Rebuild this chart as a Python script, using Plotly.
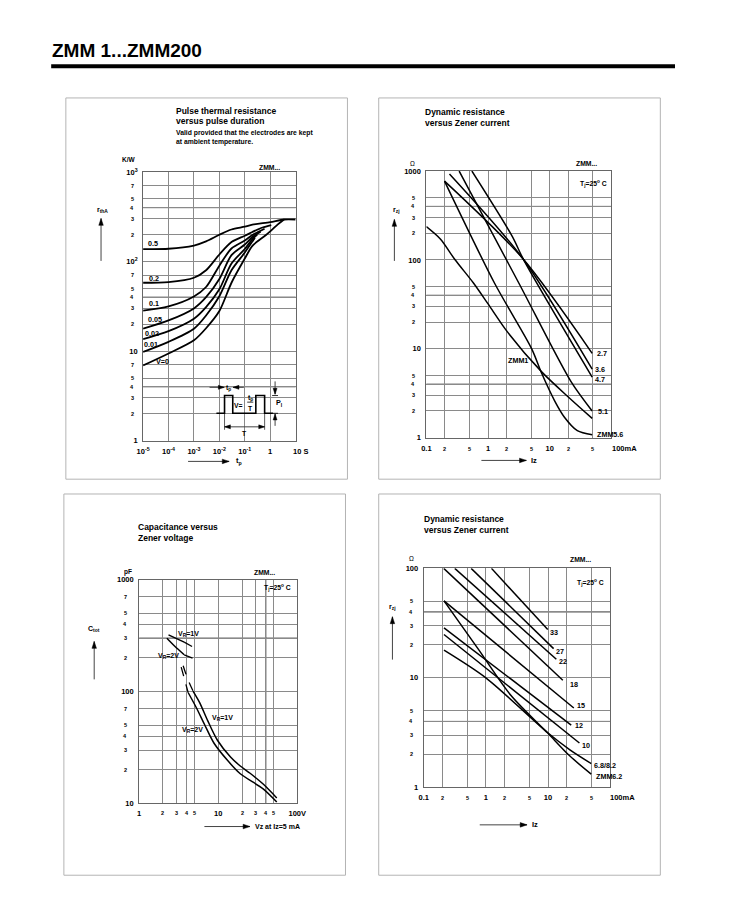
import math
import plotly.graph_objects as go

# Page coordinates are 750x919; the figure sits inside the browser's default 8px body margin
# and is kept smaller than the window so that no scrollbars appear.
OFF = 8
FW, FH = 720, 890
FONT = "Liberation Sans, Arial, Helvetica, sans-serif"

# ---------------- Panel 1: pulse thermal resistance rthA (K/W) vs pulse duration tp (s) ----------------
tp_05 = [1e-5, 1e-4, 1e-3, 3e-3, 1e-2, 3e-2, 0.1, 0.2, 1.0, 3.5, 10]
rth_05 = [138, 139, 151, 168, 199, 228, 245, 258, 276, 295, 295]
tp_02 = [1e-5, 1e-4, 1e-3, 3e-3, 1e-2, 3e-2, 0.1, 0.2, 0.5, 1.1]
rth_02 = [58, 59, 66, 80, 120, 165, 194, 214, 240, 256]
tp_01 = [1e-5, 1e-4, 1e-3, 3e-3, 1e-2, 3e-2, 0.1, 0.2, 0.35, 0.6]
rth_01 = [28.4, 31.6, 40.8, 52, 90, 140, 172, 198, 215, 233]
tp_005 = [1e-5, 1e-4, 1e-3, 3e-3, 1e-2, 3e-2, 0.1, 0.2, 0.42]
rth_005 = [17.8, 22, 30, 40, 64, 118, 155, 188, 215]
tp_002 = [1e-5, 1e-4, 1e-3, 3e-3, 1e-2, 3e-2, 0.1, 0.2, 0.31]
rth_002 = [13.6, 16.7, 23, 31, 49, 95, 138, 178, 200]
tp_001 = [1e-5, 1e-4, 1e-3, 3e-3, 1e-2, 3e-2, 0.1, 0.2, 0.25]
rth_001 = [9.8, 12.7, 17.8, 25, 41, 80, 126, 168, 185]
tp_0 = [1e-5, 1e-4, 1e-3, 3e-3, 1e-2, 3e-2, 0.1, 0.2, 0.7, 2.0, 3.5]
rth_0 = [6.9, 9.4, 13.2, 18, 28, 58, 108, 150, 199, 260, 295]
p1_curve_labels = ["0.5", "0.2", "0.1", "0.05", "0.02", "0.01", "V=0"]

# ---------------- Panel 2: dynamic resistance rzj (Ohm) vs Iz (mA), ZMM1...ZMM5.6 ----------------
iz_zmm1 = [0.1, 0.17, 0.29, 0.58, 1.0, 2.06, 7.4, 20.8, 48.7]
rz_zmm1 = [237, 171, 101, 55, 32, 15.5, 5.5, 2.8, 1.65]
iz_56 = [0.197, 1.27, 5.1, 7.4, 12, 17.3, 28, 48.7]
rz_56 = [770, 55, 10, 5.3, 2.6, 1.7, 1.2, 1.08]
iz_51 = [0.34, 3.15, 22, 48.7]
rz_51 = [1000, 55, 4.3, 2.0]
iz_27 = [0.197, 3.6, 48.7]
rz_27 = [770, 105, 8.9]
iz_36 = [0.237, 3.6, 48.7]
rz_36 = [927, 105, 5.9]
iz_47 = [0.547, 2.48, 3.78, 48.7]
rz_47 = [1000, 183, 100, 4.8]

# ---------------- Panel 3: capacitance Ctot (pF) vs Vz (V) ----------------
vz_1v_up = [2.35, 3.71]
c_1v_up = [321, 276]
vz_1v_up_d = [3.71, 5.27]
c_1v_up_d = [276, 241]
vz_2v_up = [2.24, 2.8, 3.71]
c_2v_up = [299, 255, 213]
vz_2v_up_d = [3.71, 5.27]
c_2v_up_d = [213, 193]
vz_1v_lo_d = [3.6, 4.1, 4.8]
c_1v_lo_d = [170, 130, 101]
vz_1v_lo = [4.8, 5.8, 7.35, 9.77, 14.3, 19, 25.3, 37, 55]
c_1v_lo = [101, 80, 55, 36.7, 26, 21.6, 18.6, 14.9, 11.2]
vz_2v_lo_d = [3.4, 3.7, 4.16]
c_2v_lo_d = [165, 133, 98]
vz_2v_lo = [4.16, 5.27, 6.69, 8.9, 13, 19, 37, 55]
c_2v_lo = [98, 72, 51, 34.3, 24.4, 18.4, 13.5, 10.3]

# ---------------- Panel 4: dynamic resistance rzj (Ohm) vs Iz (mA), ZMM6.2...ZMM33 ----------------
iz_33 = [1.23, 9.9]
rz_33 = [100, 27.6]
iz_27b = [0.58, 12.3]
rz_27b = [100, 18.5]
iz_22 = [0.316, 13.6]
rz_22 = [100, 14.8]
iz_18 = [0.21, 17.3]
rz_18 = [100, 9.5]
iz_15 = [0.212, 26]
rz_15 = [50.5, 5.3]
iz_12 = [0.212, 23.6]
rz_12 = [28.6, 3.7]
iz_10 = [0.212, 32]
rz_10 = [24.9, 2.54]
iz_68 = [0.212, 1.0, 9.9, 22.5, 49.5]
rz_68 = [17.9, 10, 3.15, 2.2, 1.65]
iz_62 = [0.212, 0.76, 2.54, 9.9, 22.5, 49.5]
rz_62 = [50.5, 18.2, 6.9, 3.13, 1.93, 1.32]

# ---------------- tick values / labels ----------------
p1_xticks = [1e-5, 1e-4, 1e-3, 1e-2, 1e-1, 1]
p1_xtext = ["10<sup>-5</sup>", "10<sup>-4</sup>", "10<sup>-3</sup>", "10<sup>-2</sup>", "10<sup>-1</sup>", "1"]
p1_yticks = [1, 10, 100, 1000]
p1_ytext = ["1", "10", "10<sup>2</sup>", "10<sup>3</sup>"]
p1_yminor = [2, 3, 4, 5, 7, 20, 30, 40, 50, 70, 200, 300, 400, 500, 700]
p1_yminor_text = ["2", "3", "4", "5", "7"] * 3
p1_ydark = [4, 40, 400]

iz_ticks = [0.1, 1, 10]
iz_text = ["0.1", "1", "10"]
iz_minor = [0.2, 0.5, 2, 5, 20, 50]
iz_minor_text = ["2", "5"] * 3

p2_yticks = [1, 10, 100, 1000]
p2_ytext = ["1", "10", "100", "1000"]
p2_yminor = [2, 3, 4, 5, 20, 30, 40, 50, 200, 300, 400, 500]
p2_yminor_text = ["2", "3", "4", "5"] * 3
p2_ydark = [4, 40, 400]

p3_xticks = [1, 10, 100]
p3_xtext = ["1", "10", "100V"]
p3_xminor = [2, 3, 4, 5, 20, 30, 40, 50]
p3_xminor_text = ["2", "3", "4", "5"] * 2
p3_xdark = [40]
p3_yticks = [10, 100, 1000]
p3_ytext = ["10", "100", "1000"]
p3_yminor = [20, 30, 40, 50, 70, 200, 300, 400, 500, 700]
p3_yminor_text = ["2", "3", "4", "5", "7"] * 2
p3_ydark = [300]

p4_yticks = [1, 10, 100]
p4_ytext = ["1", "10", "100"]
p4_yminor = [2, 3, 4, 5, 20, 30, 40, 50]
p4_yminor_text = ["2", "3", "4", "5"] * 2
p4_ydark = [4, 40]


def X(px):
    return (px - OFF) / FW


def Y(py):
    return 1 - (py - OFF) / FH


fig = go.Figure()


def add_line(x, y, ax, width=1.8, dash="solid", smooth=True):
    fig.add_trace(go.Scatter(
        x=x, y=y, mode="lines", xaxis="x" + ax, yaxis="y" + ax,
        line=dict(color="black", width=width, dash=dash,
                  shape="spline" if smooth else "linear", smoothing=0.8),
        showlegend=False, hoverinfo="skip"))


# panel 1
for tx, ry in [(tp_05, rth_05), (tp_02, rth_02), (tp_01, rth_01), (tp_005, rth_005),
               (tp_002, rth_002), (tp_001, rth_001), (tp_0, rth_0)]:
    add_line(tx, ry, "", width=1.8)
# panel 2
for ix, ry in [(iz_zmm1, rz_zmm1), (iz_56, rz_56), (iz_51, rz_51), (iz_27, rz_27),
               (iz_36, rz_36), (iz_47, rz_47)]:
    add_line(ix, ry, "2", width=1.5)
# panel 3
add_line(vz_1v_up, c_1v_up, "3", width=1.5, smooth=False)
add_line(vz_1v_up_d, c_1v_up_d, "3", width=1.3, dash="dash", smooth=False)
add_line(vz_2v_up, c_2v_up, "3", width=1.5)
add_line(vz_2v_up_d, c_2v_up_d, "3", width=1.3, dash="dash", smooth=False)
add_line(vz_1v_lo_d, c_1v_lo_d, "3", width=1.3, dash="dash")
add_line(vz_1v_lo, c_1v_lo, "3", width=1.5)
add_line(vz_2v_lo_d, c_2v_lo_d, "3", width=1.3, dash="dash")
add_line(vz_2v_lo, c_2v_lo, "3", width=1.5)
# panel 4
for ix, ry in [(iz_33, rz_33), (iz_27b, rz_27b), (iz_22, rz_22), (iz_18, rz_18),
               (iz_15, rz_15), (iz_12, rz_12), (iz_10, rz_10), (iz_68, rz_68), (iz_62, rz_62)]:
    add_line(ix, ry, "4", width=1.5)

GRID = "#8a8a8a"


def log_axis(a0, a1, rng, tv, tt, minor_vals, anchor, is_x):
    dom = [X(a0), X(a1)] if is_x else [Y(a1), Y(a0)]
    return dict(type="log", domain=dom, range=rng, tickvals=tv, ticktext=tt,
                showgrid=True, gridcolor=GRID, gridwidth=1, showline=True,
                linecolor="#666", linewidth=1, mirror=True, zeroline=False,
                ticks="", ticklabelstandoff=3, anchor=anchor, fixedrange=True,
                minor=dict(tickvals=minor_vals, showgrid=True, gridcolor=GRID, gridwidth=1, ticks=""),
                tickfont=dict(family=FONT, size=7.5, color="black", weight="bold"))


fig.update_layout(
    width=FW, height=FH, margin=dict(l=0, r=0, t=0, b=0),
    paper_bgcolor="white", plot_bgcolor="white", showlegend=False,
    xaxis=log_axis(139, 295, [-5, 1], p1_xticks, p1_xtext, [], "y", True),
    yaxis=log_axis(168, 440, [0, 3], p1_yticks, p1_ytext, p1_yminor, "x", False),
    xaxis2=log_axis(428.7, 618, [-1, 2], iz_ticks, iz_text, iz_minor, "y2", True),
    yaxis2=log_axis(167, 437, [0, 3], p2_yticks, p2_ytext, p2_yminor, "x2", False),
    xaxis3=log_axis(135, 296.7, [0, 2], p3_xticks, p3_xtext, p3_xminor, "y3", True),
    yaxis3=log_axis(580.7, 807.3, [1, 3], p3_yticks, p3_ytext, p3_yminor, "x3", False),
    xaxis4=log_axis(426, 616.7, [-1, 2], iz_ticks, iz_text, iz_minor, "y4", True),
    yaxis4=log_axis(569.3, 791, [0, 2], p4_yticks, p4_ytext, p4_yminor, "x4", False),
)

ann = []
shapes = []
MINOR_FONT = dict(family=FONT, size=5.5, color="black", weight="bold")


def minor_y(vals, texts, s, shift=-5):
    for v, t in zip(vals, texts):
        ann.append(dict(text=t, xref=f"x{s} domain", x=0, yref=f"y{s}", y=math.log10(v),
                        xanchor="right", yanchor="middle", xshift=shift, showarrow=False,
                        font=MINOR_FONT))


def minor_x(vals, texts, s, shift=-4):
    for v, t in zip(vals, texts):
        ann.append(dict(text=t, xref=f"x{s}", x=math.log10(v), yref=f"y{s} domain", y=0,
                        xanchor="center", yanchor="top", yshift=shift, showarrow=False,
                        font=MINOR_FONT))


def dark_y(vals, s):
    # shapes on log axes take data values directly
    for v in vals:
        shapes.append(dict(type="line", xref=f"x{s} domain", x0=0, x1=1, yref=f"y{s}",
                           y0=v, y1=v, layer="below",
                           line=dict(color="#3a3a3a", width=1)))


def dark_x(vals, s):
    for v in vals:
        shapes.append(dict(type="line", yref=f"y{s} domain", y0=0, y1=1, xref=f"x{s}",
                           x0=v, x1=v, layer="below",
                           line=dict(color="#3a3a3a", width=1)))


minor_y(p1_yminor, p1_yminor_text, "", shift=-7)
minor_y(p2_yminor, p2_yminor_text, "2", shift=-9)
minor_x(iz_minor, iz_minor_text, "2", shift=-6)
minor_x(p3_xminor, p3_xminor_text, "3", shift=-5)
minor_y(p3_yminor, p3_yminor_text, "3", shift=-10)
minor_y(p4_yminor, p4_yminor_text, "4", shift=-9)
minor_x(iz_minor, iz_minor_text, "4", shift=-6)
dark_y(p1_ydark, "")
dark_y(p2_ydark, "2")
dark_y(p3_ydark, "3")
dark_x(p3_xdark, "3")
dark_y(p4_ydark, "4")


def T(text, x, y, size=7.5, xa="left", ya="middle", bold=True):
    ann.append(dict(text=text, x=X(x), y=Y(y), xref="paper", yref="paper",
                    showarrow=False, xanchor=xa, yanchor=ya, borderpad=0,
                    font=dict(family=FONT, size=size, color="black",
                              weight="bold" if bold else "normal")))


def L(x0, y0, x1, y1, color="black", width=1):
    shapes.append(dict(type="line", xref="paper", yref="paper",
                       x0=X(x0), y0=Y(y0), x1=X(x1), y1=Y(y1),
                       line=dict(color=color, width=width)))


def head(xt, yt, xh, yh, hl=7, hw=2.3):
    dx, dy = xh - xt, yh - yt
    n = math.hypot(dx, dy)
    ux, uy = dx / n, dy / n
    bx, by = xh - ux * hl, yh - uy * hl
    nx, ny = -uy, ux
    pts = [(xh, yh), (bx + nx * hw, by + ny * hw), (bx - nx * hw, by - ny * hw)]
    path = "M " + " L ".join(f"{X(a):.5f},{Y(b):.5f}" for a, b in pts) + " Z"
    shapes.append(dict(type="path", xref="paper", yref="paper", path=path,
                       fillcolor="black", line=dict(color="black", width=0.5)))


def arrow(xt, yt, xh, yh, both=False, color="#444", width=1, hl=7, hw=2.3):
    L(xt, yt, xh, yh, color=color, width=width)
    head(xt, yt, xh, yh, hl, hw)
    if both:
        head(xh, yh, xt, yt, hl, hw)


def R(x0, y0, x1, y1):
    shapes.append(dict(type="rect", xref="paper", yref="paper",
                       x0=X(x0), y0=Y(y1), x1=X(x1), y1=Y(y0),
                       line=dict(color="#b4b4b4", width=1), fillcolor="rgba(0,0,0,0)",
                       layer="below"))


# page header
T("ZMM 1...ZMM200", 45, 45, 19)
L(45, 61, 683, 61, width=4)

# panel boxes
R(60, 93, 348, 479)
R(380, 93, 668, 479)
R(58, 494, 346, 880)
R(380, 494, 668, 880)

# ---- panel 1 texts ----
T("Pulse thermal resistance", 171.7, 106, 8.5)
T("versus pulse duration", 171.7, 116.7, 8.5)
T("Valid provided that the electrodes are kept", 171.7, 128.3, 6.8)
T("at ambient temperature.", 171.7, 137.7, 6.8)
T("K/W", 125, 155.5, 6.5, xa="center")
T("ZMM...", 268.3, 163.3, 6.8, xa="center")
T("r<sub>thA</sub>", 97, 206.7, 7, xa="center")
arrow(96, 258, 96, 215)
arrow(185, 461, 227, 461)
T("t<sub>p</sub>", 233, 461, 7.5)
T("10 S", 299.5, 450.5, 7.5, xa="center")
for lab, (lx, ly) in zip(p1_curve_labels, [(149.3, 240.3), (150.3, 275.5), (150, 300.7), (150.8, 317.3),
                                            (148.3, 331.7), (147.2, 342.7), (159.2, 360)]):
    T(lab, lx, ly, 7.2, xa="center")
# pulse waveform inset
wave = [(214, 412.3), (222.3, 412.3), (222.3, 394.3), (230.7, 394.3), (230.7, 412.3),
        (254.3, 412.3), (254.3, 394.3), (263.3, 394.3), (263.3, 412.3), (271.7, 412.3)]
shapes.append(dict(type="path", xref="paper", yref="paper",
                   path="M " + " L ".join(f"{X(a):.5f},{Y(b):.5f}" for a, b in wave),
                   line=dict(color="black", width=1.6)))
L(222.3, 413, 222.3, 429, color="#333", width=0.8)
L(263.3, 413, 263.3, 429, color="#333", width=0.8)
arrow(222.3, 426, 263.3, 426, both=True, hl=6, hw=2)
T("T", 242.7, 432.5, 6.8, xa="center")
arrow(207, 386, 222, 386, hl=6, hw=2)
arrow(242, 386, 231, 386, hl=6, hw=2)
T("t<sub>p</sub>", 226.7, 387, 6.8, xa="center")
T("V=", 236.5, 404, 6.8, xa="center")
T("t<sub>p</sub>", 248.5, 396.5, 6.8, xa="center")
L(245.5, 401, 251.7, 401, width=0.8)
T("T", 248.7, 407.5, 6.8, xa="center")
arrow(274, 380, 274, 393, hl=6, hw=2)
arrow(274, 425, 274, 413, hl=6, hw=2)
L(271, 394.3, 277, 394.3, width=0.8)
L(271, 412.3, 277, 412.3, width=0.8)
T("P<sub>I</sub>", 278, 402, 7.2, xa="center")

# ---- panel 2 texts ----
T("Dynamic resistance", 426.7, 107.3, 8.5)
T("versus Zener current", 426.7, 118, 8.5)
T("Ω", 414.3, 159.3, 6.5, xa="center", bold=False)
T("ZMM...", 592, 159, 6.8, xa="center")
T("T<sub>j</sub>=25<sup>o</sup> C", 600, 179.3, 6.8, xa="center")
T("r<sub>zj</sub>", 398, 206.7, 7, xa="center")
arrow(396, 258, 396, 216)
arrow(485, 460, 531, 460)
T("Iz", 535, 460, 7.5)
T("100mA", 618, 448.3, 7.5)
for lab, (lx, ly) in [("2.7", (601.7, 352)), ("3.6", (600.5, 368.3)), ("4.7", (600.5, 378.3)),
                      ("5.1", (603.3, 410)), ("ZMM5.6", (602.3, 434))]:
    T(lab, lx, ly, 7.2)
T("ZMM1", 522.7, 359, 7.2, xa="center")

# ---- panel 3 texts ----
T("Capacitance versus", 132.3, 527.7, 8.5)
T("Zener voltage", 132.3, 538.3, 8.5)
T("pF", 123.3, 573.3, 6.5, xa="center")
T("ZMM...", 263.3, 573.3, 6.8, xa="center")
T("T<sub>j</sub>=25<sup>o</sup> C", 276.7, 589, 6.8, xa="center")
T("C<sub>tot</sub>", 89.3, 630.7, 7, xa="center")
arrow(89, 681.7, 89, 643.3)
arrow(201.7, 830.7, 248.3, 830.7)
T("Vz at Iz=5 mA", 252, 830.7, 7)
T("V<sub>R</sub>=1V", 185, 635.7, 7, xa="center")
T("V<sub>R</sub>=2V", 164.5, 658.3, 7, xa="center")
T("V<sub>R</sub>=1V", 220.3, 721, 7, xa="center")
T("V<sub>R</sub>=2V", 189.3, 732.7, 7, xa="center")

# ---- panel 4 texts ----
T("Dynamic resistance", 425, 519.3, 8.5)
T("versus Zener current", 425, 530, 8.5)
T("Ω", 413.3, 559.3, 6.5, xa="center", bold=False)
T("ZMM...", 586.7, 560.7, 6.8, xa="center")
T("T<sub>j</sub>=25<sup>o</sup> C", 596.7, 583.3, 6.8, xa="center")
T("r<sub>zj</sub>", 394, 608.3, 7, xa="center")
arrow(394, 661.7, 394, 618.3)
arrow(483.3, 829, 531.7, 829)
T("Iz", 536, 829, 7.5)
T("100mA", 615, 801.7, 7.5)
for lab, (lx, ly) in [("33", (554, 634)), ("27", (560.7, 653.3)), ("22", (563.3, 663.7)),
                      ("18", (575, 686.7)), ("15", (582, 707.7)), ("12", (580, 728.3)),
                      ("10", (587.3, 748.3)), ("6.8/8.2", (599.3, 769.3)), ("ZMM6.2", (601, 780))]:
    T(lab, lx, ly, 7.2)

fig.update_layout(annotations=ann, shapes=shapes)

fig.write_html("out.html", include_plotlyjs=True,
               config={"displayModeBar": False, "staticPlot": True})
